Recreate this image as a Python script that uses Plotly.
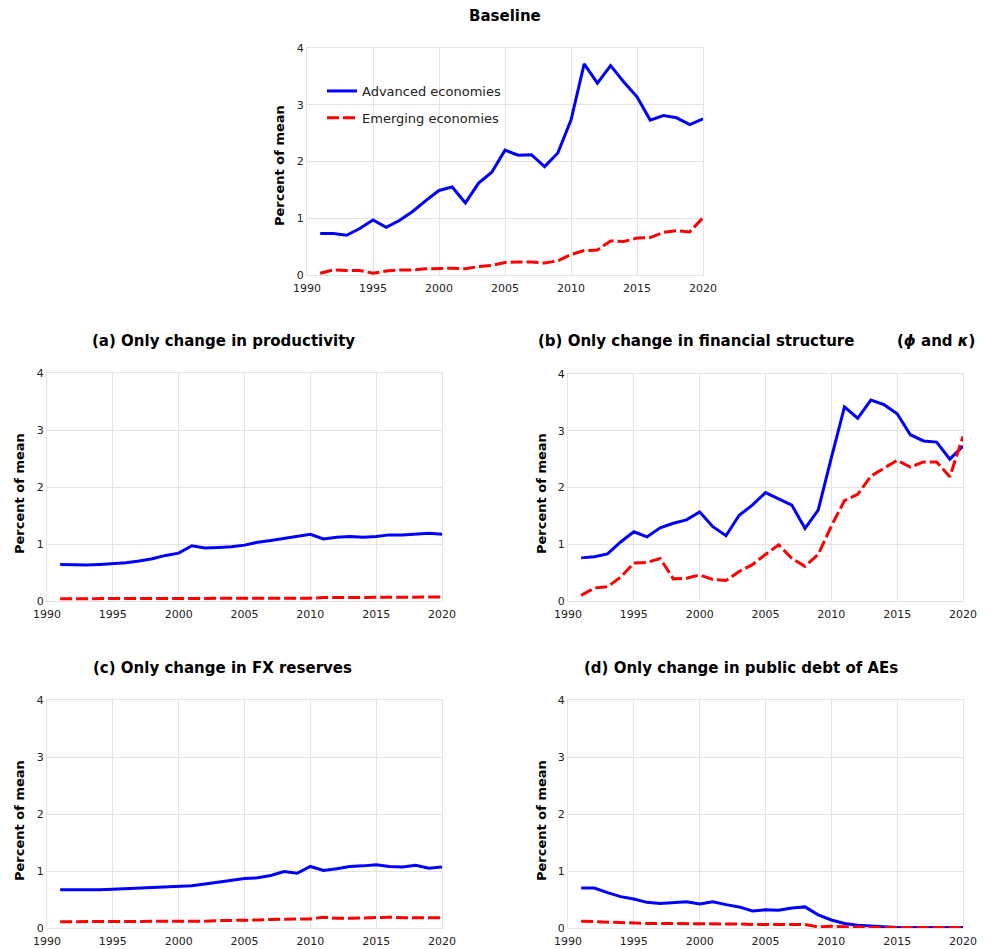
import plotly.graph_objects as go

years = list(range(1991, 2021))

base_ae = [0.73, 0.73, 0.70, 0.82, 0.97, 0.84, 0.96, 1.12, 1.31, 1.49, 1.55, 1.27, 1.62, 1.81, 2.20,
           2.11, 2.12, 1.91, 2.15, 2.73, 3.72, 3.38, 3.69, 3.40, 3.14, 2.73, 2.81, 2.77, 2.65, 2.75]
base_em = [0.03, 0.09, 0.08, 0.08, 0.03, 0.07, 0.09, 0.09, 0.11, 0.12, 0.12, 0.11, 0.15, 0.17, 0.22,
           0.23, 0.23, 0.21, 0.25, 0.36, 0.43, 0.44, 0.60, 0.59, 0.65, 0.66, 0.75, 0.78, 0.76, 1.01]

prod_ae = [0.64, 0.63, 0.63, 0.64, 0.65, 0.67, 0.70, 0.74, 0.80, 0.84, 0.97, 0.93, 0.94, 0.95, 0.98,
           1.03, 1.06, 1.10, 1.14, 1.17, 1.09, 1.12, 1.13, 1.12, 1.13, 1.16, 1.16, 1.18, 1.19, 1.17]
prod_em = [0.04, 0.04, 0.04, 0.04, 0.04, 0.04, 0.04, 0.04, 0.04, 0.04, 0.05, 0.05, 0.05, 0.05, 0.05,
           0.05, 0.05, 0.05, 0.05, 0.05, 0.06, 0.06, 0.06, 0.06, 0.06, 0.06, 0.06, 0.07, 0.07, 0.07]

fin_ae = [0.76, 0.78, 0.83, 1.04, 1.22, 1.13, 1.29, 1.37, 1.43, 1.57, 1.31, 1.15, 1.51, 1.69, 1.91,
          1.80, 1.69, 1.28, 1.60, 2.52, 3.42, 3.22, 3.54, 3.46, 3.30, 2.93, 2.82, 2.80, 2.50, 2.73]
fin_em = [0.10, 0.23, 0.25, 0.42, 0.67, 0.68, 0.75, 0.39, 0.40, 0.46, 0.38, 0.36, 0.52, 0.64, 0.82,
          0.99, 0.75, 0.61, 0.82, 1.32, 1.77, 1.88, 2.20, 2.34, 2.48, 2.36, 2.45, 2.45, 2.19, 2.90]

fx_ae = [0.67, 0.67, 0.66, 0.67, 0.68, 0.69, 0.71, 0.71, 0.72, 0.74, 0.74, 0.77, 0.80, 0.84, 0.87,
         0.88, 0.92, 0.99, 0.96, 1.08, 1.01, 1.04, 1.08, 1.09, 1.11, 1.08, 1.07, 1.10, 1.05, 1.07]
fx_em = [0.11, 0.11, 0.11, 0.11, 0.11, 0.11, 0.11, 0.11, 0.11, 0.12, 0.12, 0.12, 0.13, 0.13, 0.14,
         0.14, 0.15, 0.15, 0.16, 0.16, 0.19, 0.17, 0.17, 0.18, 0.18, 0.19, 0.18, 0.18, 0.18, 0.18]

debt_ae = [0.70, 0.70, 0.62, 0.55, 0.51, 0.45, 0.43, 0.44, 0.46, 0.42, 0.46, 0.41, 0.37, 0.30, 0.32,
           0.31, 0.35, 0.37, 0.23, 0.14, 0.08, 0.05, 0.03, 0.02, 0.01, 0.01, 0.01, 0.01, 0.01, 0.01]
debt_em = [0.12, 0.11, 0.11, 0.10, 0.09, 0.08, 0.08, 0.08, 0.08, 0.08, 0.08, 0.07, 0.07, 0.06, 0.06,
           0.06, 0.07, 0.06, 0.02, 0.03, 0.02, 0.01, 0.01, 0.01, 0.01, 0.01, 0.01, 0.01, 0.01, 0.01]

series_names = ["Advanced economies", "Emerging economies"]
x_ticks = [1990, 1995, 2000, 2005, 2010, 2015, 2020]
y_ticks = [0, 1, 2, 3, 4]
y_title = "Percent of mean"

OFF = 8  # page body margin
W, H = 987 - OFF, 949 - OFF
FONT = "DejaVu Sans"
BLUE = "#0000ff"
RED = "#ff0000"
GRID = "#e3e3e3"

def px_x(p):
    return (p - OFF) / W

def px_y(p):
    return 1 - (p - OFF) / H

# panel pixel boxes (screen pixels): (left, right, top, bottom)
panels = [
    ("", (307, 703, 48, 275), base_ae, base_em),
    ("2", (47, 442, 373, 601), prod_ae, prod_em),
    ("3", (568, 963, 374, 601), fin_ae, fin_em),
    ("4", (47, 442, 700, 928), fx_ae, fx_em),
    ("5", (568, 963, 700, 928), debt_ae, debt_em),
]

fig = go.Figure()
layout = {}
for i, (suf, (l, r, t, b), ae, em) in enumerate(panels):
    xa = "x" + suf
    ya = "y" + suf
    fig.add_trace(go.Scatter(x=years, y=ae, mode="lines", name=series_names[0],
                             line=dict(color=BLUE, width=3), xaxis=xa, yaxis=ya,
                             showlegend=(i == 0), legendgroup="ae"))
    fig.add_trace(go.Scatter(x=years, y=em, mode="lines", name=series_names[1],
                             line=dict(color=RED, width=3, dash="12px,4px"), xaxis=xa, yaxis=ya,
                             showlegend=(i == 0), legendgroup="em"))
    common = dict(showgrid=True, gridcolor=GRID, gridwidth=1, zeroline=False,
                  showline=True, linecolor=GRID, linewidth=1, mirror=True, automargin=False,
                  ticks="", tickfont=dict(family=FONT, size=11, color="#222"))
    layout["xaxis" + suf] = dict(domain=[px_x(l), px_x(r)], range=[1990, 2020],
                                 tickvals=x_ticks, anchor=ya, ticklabelstandoff=3, **common)
    layout["yaxis" + suf] = dict(domain=[px_y(b), px_y(t)], range=[0, 4],
                                 tickvals=y_ticks, anchor=xa, **common)

fig.update_layout(**layout)

annotations = []
def title(text, cx, cy, size=15):
    annotations.append(dict(text=text, x=px_x(cx), y=px_y(cy), xref="paper", yref="paper",
                            showarrow=False, xanchor="center", yanchor="middle",
                            font=dict(family=FONT, size=size, color="#000")))

title("<b>Baseline</b>", 505, 16)
title("<b>(a) Only change in productivity</b>", 223, 341)
title("<b>(b) Only change in financial structure</b>", 696, 341)
title("<b>(<i>ϕ</i> and <i>κ</i>)</b>", 936, 341, size=15)
title("<b>(c) Only change in FX reserves</b>", 222, 668)
title("<b>(d) Only change in public debt of AEs</b>", 741, 668)

for cx, cy in [(280, 166), (19, 494), (541, 494), (19, 821), (541, 821)]:
    annotations.append(dict(text="<b>" + y_title + "</b>", x=px_x(cx), y=px_y(cy),
                            xref="paper", yref="paper", showarrow=False, textangle=-90,
                            xanchor="center", yanchor="middle",
                            font=dict(family=FONT, size=13, color="#000")))

fig.update_layout(
    width=W, height=H,
    margin=dict(l=0, r=0, t=0, b=0),
    paper_bgcolor="white", plot_bgcolor="white",
    font=dict(family=FONT),
    annotations=annotations,
    legend=dict(x=px_x(322), y=px_y(76), xanchor="left", yanchor="top",
                bgcolor="rgba(0,0,0,0)", font=dict(family=FONT, size=13, color="#222"),
                traceorder="grouped", tracegroupgap=7),
)

fig.write_html("out.html")
